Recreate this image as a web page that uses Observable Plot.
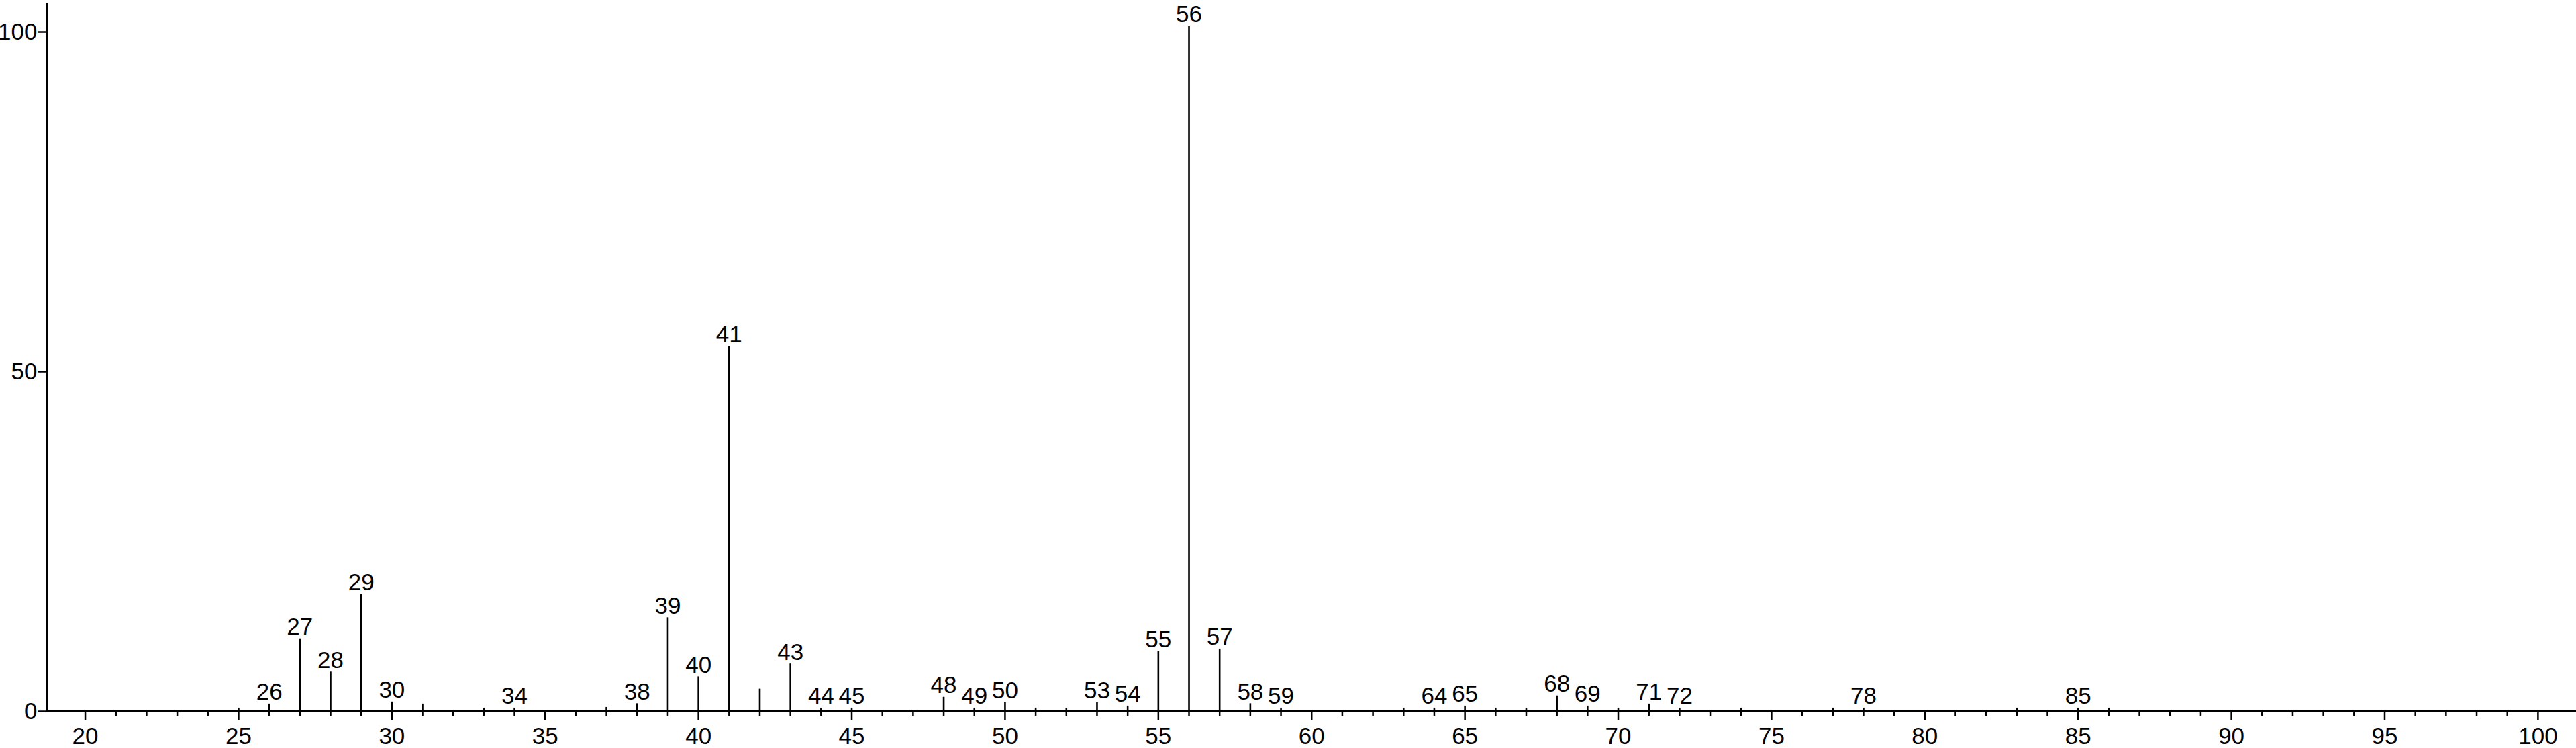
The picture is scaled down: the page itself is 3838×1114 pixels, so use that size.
<!DOCTYPE html>
<html><head><meta charset="utf-8">
<script src="https://cdn.jsdelivr.net/npm/d3@7"></script>
<script src="https://cdn.jsdelivr.net/npm/@observablehq/plot@0.6"></script>
<style>html,body{margin:0;padding:0;background:#fff;} svg{display:block}</style>
</head><body><div id="chart"></div>
<script>
// m/z values of the peaks
const mz = [25,26,27,28,29,30,31,33,34,37,38,39,40,41,42,43,44,45,48,49,50,51,52,53,54,55,56,57,58,59,63,64,65,66,67,68,69,70,71,72,74,77,78,83,85,86];
// relative intensities (%)
const intensity = [0.5,1.1,10.7,5.8,17.2,1.4,1.1,0.5,0.5,0.6,1.15,13.8,5.1,53.7,3.3,7.0,0.5,0.5,2.1,0.5,1.3,0.5,0.5,1.3,0.8,8.8,100.8,9.2,1.15,0.5,0.5,0.5,0.8,0.5,0.5,2.3,0.8,0.5,1.1,0.5,0.5,0.5,0.5,0.5,0.5,0.5];
// peaks that carry a label
const labeledMz = [26,27,28,29,30,34,38,39,40,41,43,44,45,48,49,50,53,54,55,56,57,58,59,64,65,68,69,71,72,78,85];
const xTicksMajor = d3.range(20, 101, 5);
const xTicksMinor = d3.range(20, 101).filter(v => v % 5 !== 0);
const yTicks = [0, 50, 100];
const xDomain = [18.74, 101.25];
const yDomain = [0, 104.25];

const peaks = mz.map((m, i) => ({mz: m, intensity: intensity[i]}));
const labeled = peaks.filter(d => labeledMz.includes(d.mz));

const chart = Plot.plot({
  width: 3838, height: 1114,
  marginLeft: 69, marginRight: 0, marginTop: 4, marginBottom: 55,
  style: {fontFamily: "'Liberation Sans', Arial, sans-serif", background: "#fff", color: "#000", overflow: "visible"},
  x: {domain: xDomain, label: null},
  y: {domain: yDomain, label: null},
  marks: [
    Plot.axisX({ticks: xTicksMinor, tickSize: 7, tickFormat: () => "", strokeWidth: 2.5, label: null}),
    Plot.axisX({ticks: xTicksMajor, tickSize: 13, tickPadding: 11, fontSize: 35, strokeWidth: 2.5, label: null}),
    Plot.axisY({ticks: yTicks, tickSize: 12, tickPadding: 2, fontSize: 35, strokeWidth: 2.5, label: null}),
    Plot.ruleY([yDomain[0]], {strokeWidth: 3}),
    Plot.ruleX([xDomain[0]], {strokeWidth: 3}),
    Plot.ruleX(peaks, {x: "mz", y: "intensity", strokeWidth: 2.6}),
    Plot.text(labeled, {x: "mz", y: "intensity", text: d => String(d.mz), lineAnchor: "bottom", dy: -6, fontSize: 35, fill: "#000"})
  ]
});
document.getElementById("chart").appendChild(chart);
</script>
</body></html>
